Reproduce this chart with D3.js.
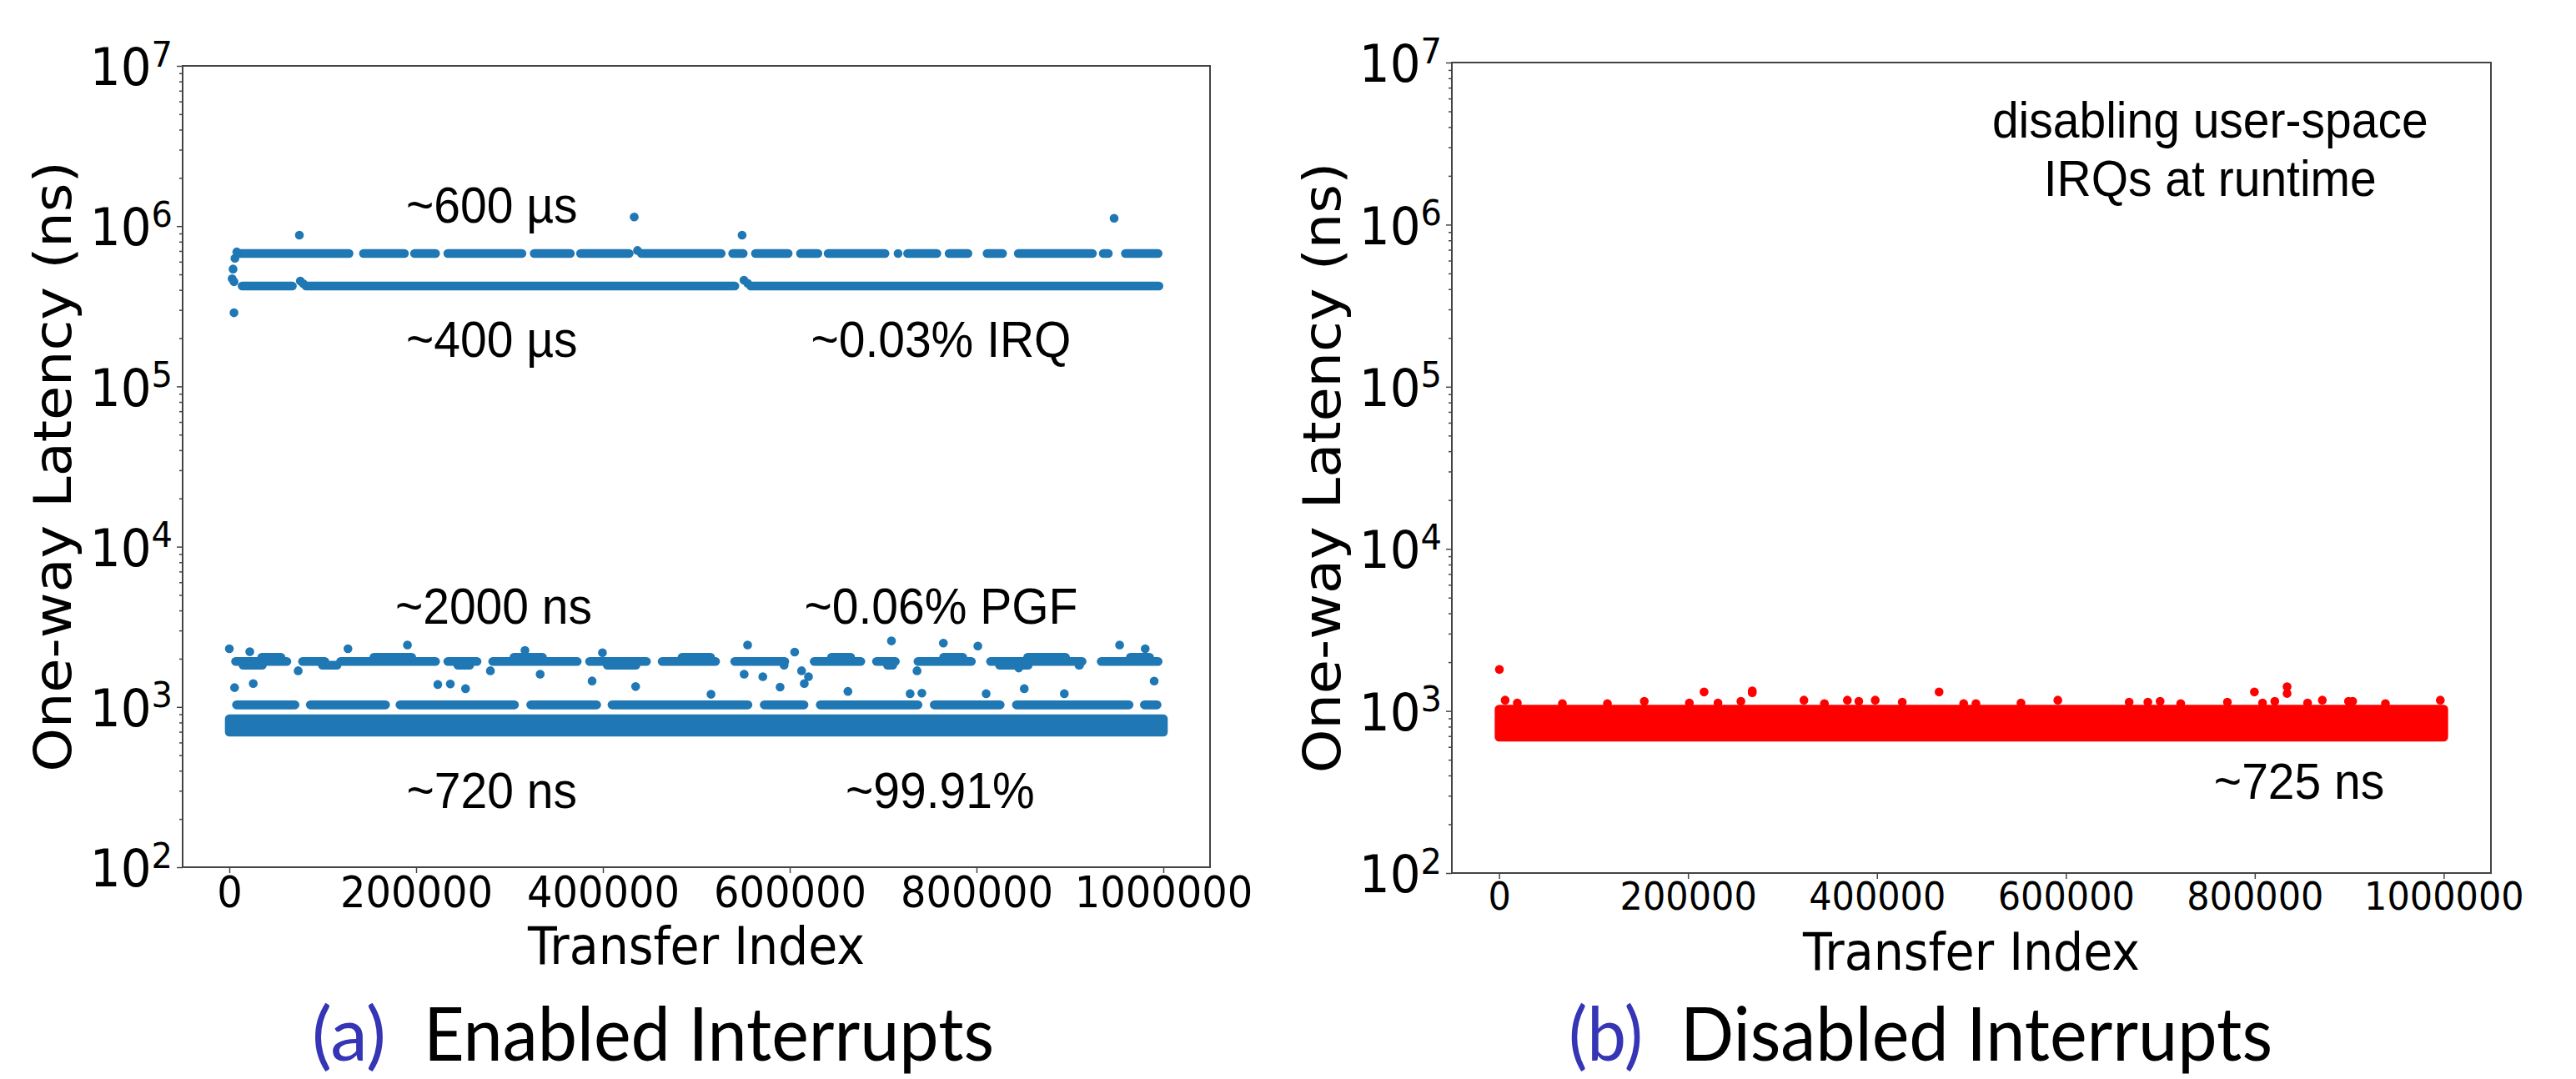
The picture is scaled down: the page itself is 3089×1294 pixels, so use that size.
<!DOCTYPE html>
<html>
<head>
<meta charset="utf-8">
<script src="https://cdn.jsdelivr.net/npm/d3@7"></script>
<style>
body { margin: 0; background: #fff; }
</style>
</head>
<body>
<div id="chart-area"></div>
<script>
// ---------- data (x = transfer index, y = latency in ns) ----------
var xTicks = [0, 200000, 400000, 600000, 800000, 1000000];
var yTicks = [1e2, 1e3, 1e4, 1e5, 1e6, 1e7];

// (a) enabled interrupts
// bulk of the transfers, so dense it reads as one band: [from, to, low, high]
var bulkA = [0, 1000000, 696, 844];
// rows of packed dots: [from, to, latency]
var irqHighRow = [
  [7100, 132900, 675000], [138900, 192200, 675000], [193600, 225500, 675000],
  [229200, 318000, 675000], [321700, 369800, 675000], [371300, 432800, 675000],
  [436400, 531300, 675000], [534200, 554900, 675000], [558600, 603000, 675000],
  [606800, 634900, 675000], [636400, 706700, 675000], [715000, 717000, 675000],
  [721500, 762200, 675000], [765900, 795500, 675000], [806600, 832600, 675000],
  [840000, 928800, 675000], [931000, 945800, 675000], [954700, 999100, 675000]
];
var irqLowRow = [[9000, 72200, 423000], [77400, 546000, 423000], [553500, 1000000, 423000]];
var irqPoints = [
  [5000, 288000], [3000, 470000], [5000, 450000], [4000, 540000], [6000, 630000], [8000, 690000],
  [76000, 455000], [79000, 438000], [551000, 460000], [555000, 440000], [437000, 705000],
  [75000, 879000], [433500, 1140000], [549000, 879000], [947300, 1120000]
];
var pgfRow = [
  [2000, 66300, 1923], [73700, 107000, 1923], [114400, 225500, 1923], [229200, 269900, 1923],
  [277300, 377200, 1923], [381000, 451300, 1923], [458700, 525300, 1923], [536400, 599400, 1923],
  [621500, 680800, 1923], [688200, 717800, 1923], [732600, 799200, 1923], [810300, 917700, 1923],
  [928800, 999100, 1923],
  [30000, 60000, 2040], [150000, 200000, 2040], [300000, 340000, 2040], [480000, 520000, 2040],
  [640000, 670000, 2040], [760000, 790000, 2040], [850000, 900000, 2040], [960000, 990000, 2040],
  [10000, 40000, 1820], [95000, 120000, 1820], [240000, 262000, 1820], [400000, 440000, 1820],
  [590000, 598000, 1820], [700000, 715000, 1820], [820000, 860000, 1820], [905000, 915000, 1820]
];
var pgfPoints = [
  [0, 2307], [21900, 2210], [127000, 2307], [190700, 2436], [316500, 2250], [399500, 2180],
  [554900, 2436], [605300, 2200], [708900, 2583], [764500, 2500], [801400, 2400], [953200, 2436],
  [980600, 2307],
  [73700, 1682], [279500, 1682], [332800, 1600], [388400, 1452], [551200, 1600], [571200, 1545],
  [612700, 1682], [620100, 1545], [736300, 1682], [845200, 1750],
  [5600, 1320], [25600, 1400], [223200, 1380], [236600, 1390], [252900, 1300], [435000, 1340],
  [515700, 1200], [589700, 1330], [615600, 1400], [662300, 1250], [728900, 1210], [741500, 1220],
  [810300, 1210], [851100, 1300], [894000, 1210], [990200, 1450]
];
var usRow = [
  [3000, 75000, 1030], [82000, 172000, 1030], [178000, 310000, 1030], [318000, 398000, 1030],
  [405000, 560000, 1030], [568000, 620000, 1030], [628000, 742000, 1030], [750000, 830000, 1030],
  [838000, 968000, 1030], [975000, 998000, 1030]
];

// (b) disabled interrupts
var bulkB = [0, 1000000, 690, 1025];
var pointsB = [
  [300, 1803], [6400, 1166], [19300, 1120], [67000, 1111], [114700, 1111], [153700, 1148],
  [201400, 1120], [217000, 1309], [231700, 1120], [256000, 1148], [268000, 1297], [268000, 1330],
  [322700, 1166], [344400, 1111], [368700, 1166], [380800, 1148], [398200, 1166], [426800, 1134],
  [465800, 1309], [491800, 1111], [504800, 1111], [552500, 1120], [591500, 1166], [667000, 1134],
  [686800, 1134], [699800, 1148], [721600, 1111], [771000, 1134], [799600, 1309], [808200, 1120],
  [821200, 1148], [834200, 1410], [834200, 1282], [855900, 1120], [871500, 1166], [899200, 1148],
  [903600, 1148], [938300, 1111], [996400, 1166]
];

// annotations: [text, x, y] in data coordinates
var notesA = [
  ["~600 µs", 281000, 1050000], ["~400 µs", 281000, 153000], ["~0.03% IRQ", 762000, 153000],
  ["~2000 ns", 283000, 3305], ["~0.06% PGF", 762000, 3305],
  ["~720 ns", 281000, 234], ["~99.91%", 761000, 234]
];
var notesB = [
  ["disabling user-space", 752700, 3440000], ["IRQs at runtime", 752700, 1500000],
  ["~725 ns", 847000, 287]
];

// ---------- drawing ----------
var SY = 1.08;   // the figure is slightly stretched vertically
var R = 5.3;

var svg = d3.select("#chart-area").append("svg")
  .attr("width", 3089)
  .attr("height", 1294)
  .style("background", "#fff");

function stretchedText(parent, x, y, str, size, family, rotate) {
  var g = parent.append("g")
    .attr("transform", "translate(" + x + "," + y + ") scale(1," + SY + ")" + (rotate ? " rotate(-90)" : ""));
  return g.append("text")
    .attr("text-anchor", "middle")
    .attr("font-family", family)
    .attr("font-size", size)
    .attr("fill", "#000")
    .text(str);
}

function panel(cfg) {
  var g = svg.append("g");
  var x = d3.scaleLinear().domain([-50000, 1050000]).range([cfg.left, cfg.right]);
  var y = d3.scaleLog().domain([1e2, 1e7]).range([cfg.bottom, cfg.top]);

  // dense band
  var area = d3.area()
    .x(function(d) { return x(d[0]); })
    .y0(function(d) { return y(d[1]); })
    .y1(function(d) { return y(d[2]); });
  var b = cfg.bulk;
  g.append("path")
    .datum([[b[0], b[2], b[3]], [b[1], b[2], b[3]]])
    .attr("d", area)
    .attr("fill", cfg.color)
    .attr("stroke", cfg.color)
    .attr("stroke-width", 2 * R)
    .attr("stroke-linejoin", "round");

  // rows of packed dots (ends were read at the dot edges, so pull the caps in)
  g.selectAll("line.row").data(cfg.rows).enter()
    .append("line")
    .attr("class", "row")
    .attr("x1", function(d) { return Math.min(x(d[0]) + R, (x(d[0]) + x(d[1])) / 2); })
    .attr("x2", function(d) { return Math.max(x(d[1]) - R, (x(d[0]) + x(d[1])) / 2); })
    .attr("y1", function(d) { return y(d[2]); })
    .attr("y2", function(d) { return y(d[2]); })
    .attr("stroke", cfg.color)
    .attr("stroke-width", 2 * R)
    .attr("stroke-linecap", "round");

  // single dots
  g.selectAll("circle").data(cfg.points).enter()
    .append("circle")
    .attr("cx", function(d) { return x(d[0]); })
    .attr("cy", function(d) { return y(d[1]); })
    .attr("r", R)
    .attr("fill", cfg.color);

  // minor ticks on the log axis
  var minors = [];
  yTicks.slice(0, -1).forEach(function(p) {
    for (var k = 2; k < 10; k++) minors.push(p * k);
  });
  var minorAxis = d3.axisLeft(y).tickValues(minors).tickSize(4).tickFormat("");
  g.append("g")
    .attr("transform", "translate(" + cfg.left + ",0)")
    .call(minorAxis)
    .call(function(s) { s.select(".domain").remove(); })
    .selectAll("line").attr("stroke", "#444").attr("stroke-width", 1.5);

  var leftAxis = d3.axisLeft(y).tickValues(yTicks).tickSize(7);
  var ya = g.append("g")
    .attr("transform", "translate(" + cfg.left + ",0)")
    .call(leftAxis);
  ya.select(".domain").remove();
  ya.selectAll("line").attr("stroke", "#444").attr("stroke-width", 1.5);
  ya.selectAll("text")
    .attr("x", -12)
    .attr("y", 21)
    .attr("dy", null)
    .attr("font-family", "DejaVu Sans")
    .attr("font-size", 58)
    .attr("fill", "#000")
    .attr("transform", "scale(1," + SY + ")")
    .each(function(d) {
      var t = d3.select(this);
      t.text(null);
      t.append("tspan").text("10");
      t.append("tspan").attr("dy", -21).attr("font-size", 40).text(Math.round(Math.log10(d)));
    });

  var bottomAxis = d3.axisBottom(x).tickValues(xTicks).tickSize(7).tickFormat(d3.format("d"));
  var xa = g.append("g")
    .attr("transform", "translate(0," + cfg.bottom + ")")
    .call(bottomAxis);
  xa.select(".domain").remove();
  xa.selectAll("line").attr("stroke", "#444").attr("stroke-width", 1.5);
  xa.selectAll("text")
    .attr("y", 10)
    .attr("font-family", "DejaVu Sans")
    .attr("font-size", cfg.xTickSize)
    .attr("fill", "#000")
    .attr("transform", "scale(1," + SY + ")");

  // frame
  g.append("rect")
    .attr("x", cfg.left)
    .attr("y", cfg.top)
    .attr("width", cfg.right - cfg.left)
    .attr("height", cfg.bottom - cfg.top)
    .attr("fill", "none")
    .attr("stroke", "#444")
    .attr("stroke-width", 2);

  // annotations
  cfg.notes.forEach(function(n) {
    stretchedText(g, x(n[1]), y(n[2]), n[0], 57, "Liberation Sans, Arial, sans-serif");
  });

  // axis labels
  stretchedText(g, (cfg.left + cfg.right) / 2, cfg.bottom + 116, "Transfer Index", 57, "DejaVu Sans");
  stretchedText(g, cfg.left - 134, (cfg.top + cfg.bottom) / 2, "One-way Latency (ns)", 62, "DejaVu Sans", true);

  // caption
  g.append("text")
    .attr("x", cfg.capX)
    .attr("y", 1272)
    .attr("font-family", "Lato, sans-serif")
    .attr("font-size", 90)
    .attr("fill", "#3535b5")
    .attr("textLength", 89)
    .attr("lengthAdjust", "spacingAndGlyphs")
    .text(cfg.capTag);
  g.append("text")
    .attr("x", cfg.capX + 134)
    .attr("y", 1272)
    .attr("font-family", "Lato, sans-serif")
    .attr("font-size", 90)
    .attr("fill", "#000")
    .attr("textLength", cfg.capLen)
    .attr("lengthAdjust", "spacingAndGlyphs")
    .text(cfg.capText);
}

panel({
  left: 219, right: 1451, top: 79, bottom: 1040,
  color: "#1f77b4",
  bulk: bulkA,
  rows: irqHighRow.concat(irqLowRow, pgfRow, usRow),
  points: irqPoints.concat(pgfPoints),
  notes: notesA,
  xTickSize: 48,
  capX: 374, capTag: "(a)", capText: "Enabled Interrupts", capLen: 684
});

panel({
  left: 1741, right: 2987, top: 75, bottom: 1047,
  color: "#ff0000",
  bulk: bulkB,
  rows: [],
  points: pointsB,
  notes: notesB,
  xTickSize: 43,
  capX: 1881, capTag: "(b)", capText: "Disabled Interrupts", capLen: 710
});
</script>
</body>
</html>
